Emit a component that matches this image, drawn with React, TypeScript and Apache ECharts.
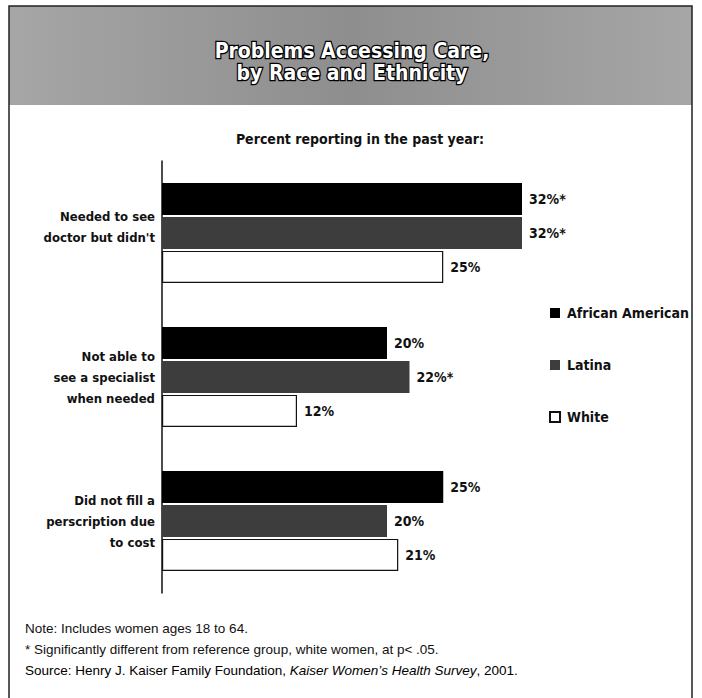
import React, { useEffect, useRef } from "react";
import * as echarts from "echarts";

const categories = [
  "Needed to see\ndoctor but didn't",
  "Not able to\nsee a specialist\nwhen needed",
  "Did not fill a\nperscription due\nto cost",
];
const seriesNames = ["African American", "Latina", "White"];
const africanAmerican = [32, 20, 25];
const latina = [32, 22, 20];
const white = [25, 12, 21];
const africanAmericanSig = [true, false, false];
const latinaSig = [true, true, false];
const whiteSig = [false, false, false];

const titleLines = ["Problems Accessing Care,", "by Race and Ethnicity"];
const subtitle = "Percent reporting in the past year:";
const noteLines = [
  "Note: Includes women ages 18 to 64.",
  "* Significantly different from reference group, white women, at p< .05.",
];
const sourcePrefix = "Source: Henry J. Kaiser Family Foundation, ";
const sourceItalic = "Kaiser Women\u2019s Health Survey";
const sourceSuffix = ", 2001.";

const NARROW = '"Liberation Sans Narrow", "DejaVu Sans Condensed", "Liberation Sans", sans-serif';
const BODY = '"Liberation Sans", "Open Sans", sans-serif';

export default function App() {
  const ref = useRef<HTMLDivElement>(null);
  useEffect(() => {
    if (!ref.current) return;
    const chart = echarts.init(ref.current, null, { renderer: "svg" });
    const mkLabel = (sig: boolean[]) => ({
      show: true,
      position: "right" as const,
      distance: 7,
      fontFamily: NARROW,
      fontWeight: "bold" as const,
      fontSize: 14,
      color: "#111",
      formatter: (p: any) => `${p.value}%${sig[p.dataIndex] ? "*" : ""}`,
    });
    const titleStyle = {
      fontFamily: NARROW,
      fontWeight: "bold",
      fontSize: 21,
      fill: "#fff",
      stroke: "#000",
      lineWidth: 2.5,
      align: "center",
      verticalAlign: "middle",
    };
    const noteStyle = { fontFamily: BODY, fontSize: 13.5, fill: "#111", verticalAlign: "middle" };
    const catText = { fontFamily: NARROW, fontWeight: "bold", fontSize: 13, lineHeight: 21, color: "#111", align: "right" };
    const option: any = {
      animation: false,
      backgroundColor: "#fff",
      grid: { left: 162, top: 161, bottom: 105, right: 90, containLabel: false },
      xAxis: {
        type: "value",
        min: 0,
        max: 40,
        show: false,
        splitLine: { show: false },
      },
      yAxis: {
        type: "category",
        data: categories,
        inverse: true,
        axisLine: { show: true, lineStyle: { color: "#111", width: 1.5 } },
        axisTick: { show: false },
        axisLabel: {
          margin: 7,
          ...catText,
          formatter: (v: string, i: number) =>
            v
              .split("\n")
              .map((l) => `{a|${l}}`)
              .join("\n") + (i === 0 ? "\n{b| }" : ""),
          rich: {
            a: { ...catText },
            b: { ...catText, lineHeight: 12 },
          },
        },
      },
      legend: {
        orient: "vertical",
        left: 544,
        top: 301,
        itemWidth: 10,
        itemHeight: 10,
        itemGap: 38,
        icon: "rect",
        textStyle: { fontFamily: NARROW, fontWeight: "bold", fontSize: 14, color: "#111", padding: [0, 0, 0, 2] },
        data: seriesNames,
      },
      series: [
        {
          name: seriesNames[0],
          type: "bar",
          data: africanAmerican,
          barWidth: 32,
          barGap: "6%",
          itemStyle: { color: "#000" },
          label: mkLabel(africanAmericanSig),
        },
        {
          name: seriesNames[1],
          type: "bar",
          data: latina,
          barWidth: 32,
          barGap: "6%",
          itemStyle: { color: "#3d3d3d" },
          label: mkLabel(latinaSig),
        },
        {
          name: seriesNames[2],
          type: "bar",
          data: white,
          barWidth: 32,
          barGap: "6%",
          itemStyle: { color: "#fff", borderColor: "#111", borderWidth: 1.2 },
          label: mkLabel(whiteSig),
        },
      ],
      graphic: [
        {
          type: "rect",
          shape: { x: 9, y: 6, width: 683, height: 99 },
          style: {
            fill: new echarts.graphic.LinearGradient(0, 0, 1, 0, [
              { offset: 0, color: "#a6a6a6" },
              { offset: 0.5, color: "#8e8e8e" },
              { offset: 1, color: "#a6a6a6" },
            ]),
            stroke: "none",
          },
          silent: true,
        },
        {
          type: "rect",
          shape: { x: 9, y: 6, width: 683, height: 720 },
          style: { fill: "none", stroke: "#222", lineWidth: 1.5 },
          silent: true,
        },
        { type: "text", x: 352, y: 51, style: { ...titleStyle, text: titleLines[0] } },
        { type: "text", x: 352, y: 73, style: { ...titleStyle, text: titleLines[1] } },
        {
          type: "text",
          x: 360,
          y: 139,
          style: {
            text: subtitle,
            fontFamily: NARROW,
            fontWeight: "bold",
            fontSize: 14,
            fill: "#111",
            align: "center",
            verticalAlign: "middle",
          },
        },
        { type: "text", x: 25, y: 628, style: { ...noteStyle, text: noteLines[0] } },
        { type: "text", x: 25, y: 649, style: { ...noteStyle, text: noteLines[1] } },
        {
          type: "text",
          x: 25,
          y: 670,
          style: {
            text: `{n|${sourcePrefix}}{i|${sourceItalic}}{n|${sourceSuffix}}`,
            verticalAlign: "middle",
            rich: {
              n: { fontFamily: BODY, fontSize: 13.5, color: "#111" },
              i: { fontFamily: BODY, fontSize: 13.5, fontStyle: "italic", color: "#111" },
            },
          },
        },
      ],
    };
    chart.setOption(option);
    return () => chart.dispose();
  }, []);
  return (
    <div
      ref={ref}
      style={{ position: "fixed", left: 0, top: 0, width: 702, height: 698, background: "#fff" }}
    />
  );
}
